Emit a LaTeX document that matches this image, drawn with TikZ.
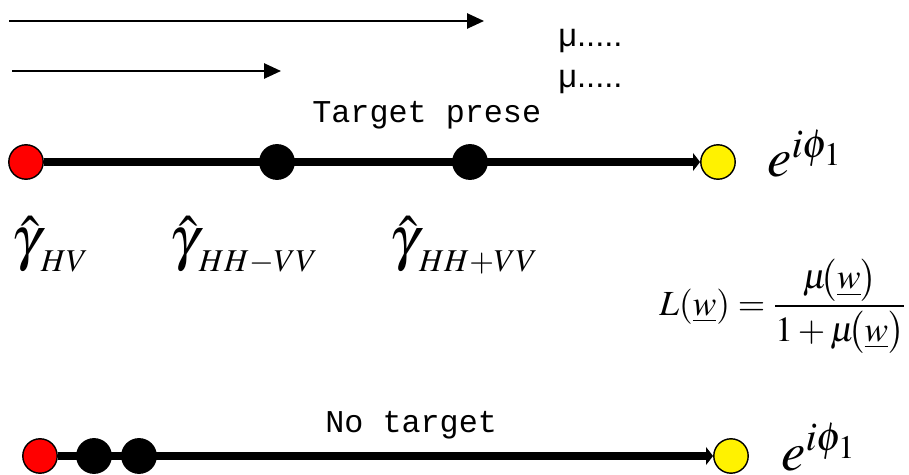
\documentclass[tikz,border=0pt]{standalone}
\usepackage{mathptmx}
\usepackage[no-math]{fontspec}
\newfontfamily\monofont{Liberation Mono}
\newfontfamily\sansfont{Liberation Sans}
\usetikzlibrary{arrows.meta}
\pgfdeclarelayer{bg}
\pgfsetlayers{bg,main}
\newcommand{\gsub}[1]{\raisebox{-7.3pt}{\fontsize{18}{20}\selectfont$#1$}}
\newcommand{\muw}{\mu\mkern-3mu\bigl(\underline{w}\bigr)}
\begin{document}
\begin{tikzpicture}[x=0.5666pt,y=-0.5666pt,
 dotnode/.style={circle, draw=black, line width=0.8pt, minimum size=19.5pt, inner sep=0pt},
 reddot/.style={dotnode, fill=red},
 blackdot/.style={dotnode, fill=black},
 yellowdot/.style={dotnode, fill=yellow},
 thinarrow/.style={line width=1.1pt, -{Triangle[length=9.5pt,width=8.5pt]}},
 axisline/.style={line width=4.5pt, -{Triangle[length=4pt,width=10pt]}},
 mulabel/.style={anchor=base west, inner sep=0pt, font=\sansfont\fontsize{18.5}{20}\selectfont},
 monolabel/.style={anchor=base west, inner sep=0pt, font=\monofont\fontsize{18}{20}\selectfont},
 phase/.style={anchor=base west, inner sep=0pt, font=\fontsize{31}{36}\selectfont},
 gammalabel/.style={anchor=base west, inner sep=0pt, font=\fontsize{34}{40}\selectfont},
]
\useasboundingbox (0,0) rectangle (909,475);

% top arrows
\coordinate (a1s) at (9,21);
\coordinate (a1e) at (484,21);
\coordinate (a2s) at (12,71);
\coordinate (a2e) at (281,71);
\draw[thinarrow] (a1s) -- (a1e);
\draw[thinarrow] (a2s) -- (a2e);
\node[mulabel] (mu1) at (558,47) {μ.....};
\node[mulabel] (mu2) at (558,88) {μ.....};

% target present line
\node[monolabel] (tp) at (312,123) {Target prese};
\node[reddot] (r1) at (26,162) {};
\node[blackdot] (b1) at (277,162) {};
\node[blackdot] (b2) at (470,162) {};
\node[yellowdot] (y1) at (718,162) {};
\begin{pgfonlayer}{bg}
\draw[axisline] (r1) -- (y1);
\end{pgfonlayer}
\node[phase] (e1) at (767,177) {$e^{i\phi_1}$};

% gamma labels
\node[gammalabel] (g1) at (11,259) {$\hat{\gamma}$\gsub{HV}};
\node[gammalabel] (g2) at (169,259) {$\hat{\gamma}$\gsub{HH{-}VV}};
\node[gammalabel] (g3) at (389,259) {$\hat{\gamma}$\gsub{HH{+}VV}};

% likelihood
\node[anchor=base west, inner sep=0pt, font=\fontsize{20}{24}\selectfont] (lik) at (659,315)
  {$\displaystyle L(\underline{w})=\frac{\muw}{1+\muw}$};

% no target line
\node[monolabel] (nt) at (325,432) {No target};
\node[reddot] (r2) at (40,456) {};
\node[blackdot] (b3) at (94,456) {};
\node[blackdot] (b4) at (139,456) {};
\node[yellowdot] (y2) at (731,456) {};
\begin{pgfonlayer}{bg}
\draw[axisline] (r2) -- (y2);
\end{pgfonlayer}
\node[phase] (e2) at (781,470) {$e^{i\phi_1}$};
\end{tikzpicture}
\end{document}
